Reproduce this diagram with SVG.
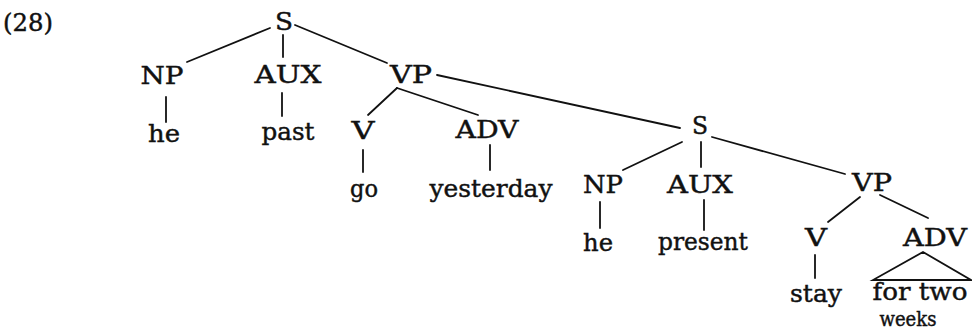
<svg xmlns="http://www.w3.org/2000/svg" width="972" height="333" viewBox="0 0 972 333">
  <style>
    text { font-family: "DejaVu Serif", "Liberation Serif", serif; font-size: 25px; fill: #111; stroke: #111; stroke-width: 0.45; text-anchor: middle; }
    text.tight { font-size: 20px; }
    .edge { stroke: #111; stroke-width: 1.8; fill: none; stroke-linecap: round; }
  </style>
  <rect width="972" height="333" fill="#fff"/>

  <text id="example-number" x="28" y="31" textLength="50" lengthAdjust="spacingAndGlyphs">(28)</text>

  <!-- tree branches -->
  <g id="connectors">
    <line class="edge" x1="270" y1="28" x2="187" y2="62"/>
    <line class="edge" x1="283" y1="35" x2="283" y2="57"/>
    <line class="edge" x1="295" y1="25" x2="387" y2="63"/>
    <line class="edge" x1="166" y1="97" x2="166" y2="122"/>
    <line class="edge" x1="282" y1="93" x2="282" y2="116"/>
    <line class="edge" x1="397" y1="88" x2="368" y2="115"/>
    <line class="edge" x1="397" y1="88" x2="478" y2="115"/>
    <line class="edge" x1="437" y1="75" x2="680" y2="128"/>
    <line class="edge" x1="363" y1="150" x2="363" y2="172"/>
    <line class="edge" x1="490" y1="145" x2="490" y2="170"/>
    <line class="edge" x1="682" y1="142" x2="623" y2="170"/>
    <line class="edge" x1="701" y1="142" x2="701" y2="167"/>
    <line class="edge" x1="712" y1="137" x2="845" y2="174"/>
    <line class="edge" x1="600" y1="202" x2="600" y2="228"/>
    <line class="edge" x1="704" y1="200" x2="704" y2="230"/>
    <line class="edge" x1="860" y1="197" x2="828" y2="222"/>
    <line class="edge" x1="880" y1="195" x2="928" y2="218"/>
    <line class="edge" x1="815" y1="255" x2="815" y2="278"/>
    <polygon class="edge" points="923,252 873,280 971,280"/>
  </g>

  <!-- matrix clause -->
  <g id="s1"><text x="284" y="30" textLength="18" lengthAdjust="spacingAndGlyphs">S</text></g>
  <g id="np1"><text x="162" y="84" textLength="43" lengthAdjust="spacingAndGlyphs">NP</text></g>
  <g id="aux1"><text x="288" y="83" textLength="67" lengthAdjust="spacingAndGlyphs">AUX</text></g>
  <g id="vp1"><text x="411" y="83" textLength="42" lengthAdjust="spacingAndGlyphs">VP</text></g>
  <g id="he1"><text x="164" y="142" textLength="32" lengthAdjust="spacingAndGlyphs">he</text></g>
  <g id="past"><text x="288" y="140" textLength="53" lengthAdjust="spacingAndGlyphs">past</text></g>
  <g id="v1"><text x="363" y="139" textLength="23" lengthAdjust="spacingAndGlyphs">V</text></g>
  <g id="adv1"><text x="487" y="138" textLength="63" lengthAdjust="spacingAndGlyphs">ADV</text></g>
  <g id="go"><text x="364" y="197" textLength="28" lengthAdjust="spacingAndGlyphs">go</text></g>
  <g id="yesterday"><text x="491" y="197" textLength="123" lengthAdjust="spacingAndGlyphs">yesterday</text></g>

  <!-- embedded clause -->
  <g id="s2"><text x="700" y="134" textLength="16" lengthAdjust="spacingAndGlyphs">S</text></g>
  <g id="np2"><text x="603" y="193" textLength="40" lengthAdjust="spacingAndGlyphs">NP</text></g>
  <g id="aux2"><text x="700" y="193" textLength="66" lengthAdjust="spacingAndGlyphs">AUX</text></g>
  <g id="vp2"><text x="872" y="191" textLength="40" lengthAdjust="spacingAndGlyphs">VP</text></g>
  <g id="he2"><text x="598" y="251" textLength="30" lengthAdjust="spacingAndGlyphs">he</text></g>
  <g id="present"><text x="703" y="250" textLength="90" lengthAdjust="spacingAndGlyphs">present</text></g>
  <g id="v2"><text x="816" y="246" textLength="22" lengthAdjust="spacingAndGlyphs">V</text></g>
  <g id="adv2"><text x="935" y="246" textLength="64" lengthAdjust="spacingAndGlyphs">ADV</text></g>
  <g id="stay"><text x="816" y="302" textLength="52" lengthAdjust="spacingAndGlyphs">stay</text></g>
  <g id="for-two-weeks">
    <text x="920" y="300" textLength="95" lengthAdjust="spacingAndGlyphs">for two</text>
    <text class="tight" x="908" y="326" textLength="57" lengthAdjust="spacingAndGlyphs">weeks</text>
  </g>
</svg>
